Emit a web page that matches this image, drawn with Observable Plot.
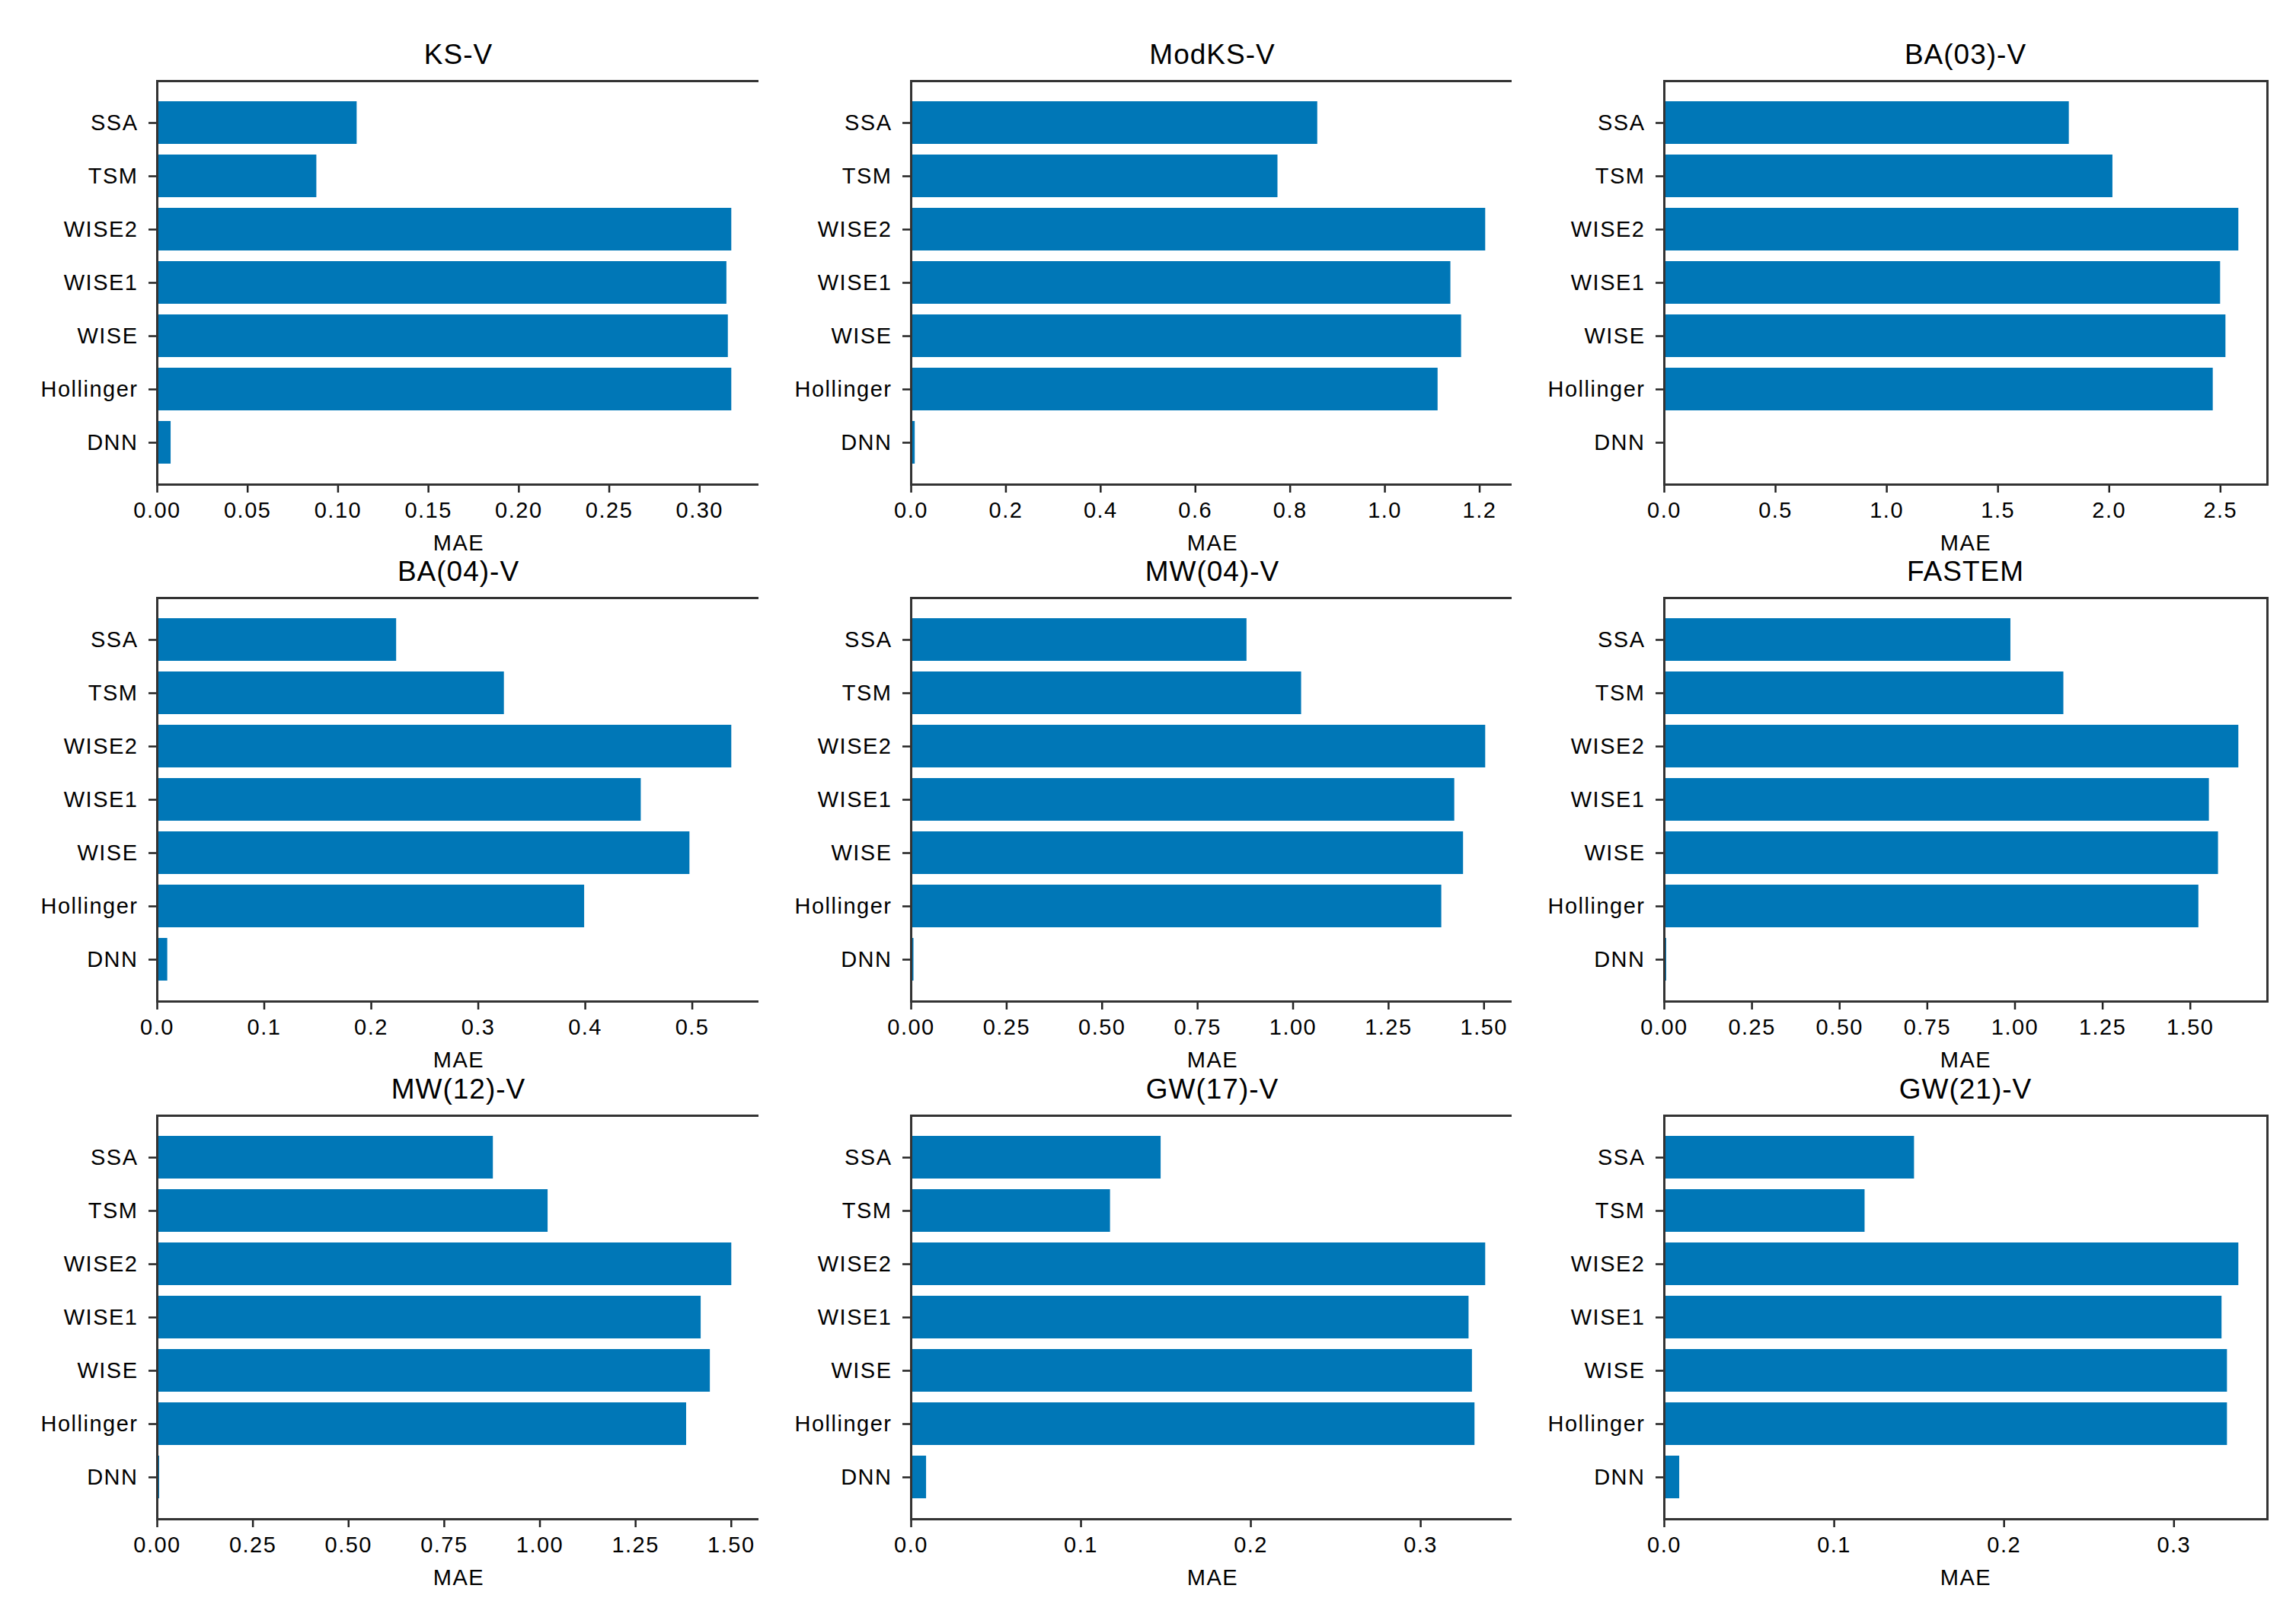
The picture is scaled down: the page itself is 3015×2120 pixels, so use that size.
<!DOCTYPE html>
<html>
<head>
<meta charset="utf-8">
<script src="https://cdn.jsdelivr.net/npm/d3@7"></script>
<script src="https://cdn.jsdelivr.net/npm/@observablehq/plot@0.6"></script>
<style>
  html, body { margin: 0; padding: 0; background: #fff; }
  #page { position: relative; width: 3015px; height: 2120px; background: #fff; font-family: "Liberation Sans", Arial, sans-serif; }
  .panel { position: absolute; }
  .title { position: absolute; text-align: center; font-size: 37px; line-height: 38px; height: 38px; color: #000; white-space: nowrap; letter-spacing: 1px; }
</style>
</head>
<body>
<div id="page"></div>
<script>
// Categories (top to bottom as shown)
const methods = ["SSA", "TSM", "WISE2", "WISE1", "WISE", "Hollinger", "DNN"];

// Panel titles
const titles = ["KS-V", "ModKS-V", "BA(03)-V", "BA(04)-V", "MW(04)-V", "FASTEM", "MW(12)-V", "GW(17)-V", "GW(21)-V"];

// MAE values per panel, in the order of `methods`
const ksV      = [0.1105, 0.0882, 0.3177, 0.3150, 0.3158, 0.3177, 0.0076];
const modksV   = [0.858, 0.774, 1.2125, 1.139, 1.1616, 1.112, 0.0083];
const ba03V    = [1.820, 2.016, 2.582, 2.500, 2.524, 2.467, 0.002];
const ba04V    = [0.2236, 0.3243, 0.5368, 0.4522, 0.4977, 0.3993, 0.0097];
const mw04V    = [0.879, 1.022, 1.504, 1.423, 1.446, 1.389, 0.007];
const fastem   = [0.988, 1.139, 1.638, 1.554, 1.580, 1.524, 0.0065];
const mw12V    = [0.878, 1.021, 1.501, 1.421, 1.445, 1.383, 0.006];
const gw17V    = [0.1471, 0.1173, 0.3382, 0.3284, 0.3304, 0.3319, 0.009];
const gw21V    = [0.1472, 0.1181, 0.3381, 0.3282, 0.3314, 0.3314, 0.009];
const series = [ksV, modksV, ba03V, ba04V, mw04V, fastem, mw12V, gw17V, gw21V];

// Tick values per panel
const ticksKs    = [0, 0.05, 0.10, 0.15, 0.20, 0.25, 0.30];
const ticksModks = [0, 0.2, 0.4, 0.6, 0.8, 1.0, 1.2];
const ticksBa03  = [0, 0.5, 1.0, 1.5, 2.0, 2.5];
const ticksBa04  = [0, 0.1, 0.2, 0.3, 0.4, 0.5];
const ticksQuart = [0, 0.25, 0.50, 0.75, 1.00, 1.25, 1.50];
const ticksGw    = [0, 0.1, 0.2, 0.3];
const tickSets = [ticksKs, ticksModks, ticksBa03, ticksBa04, ticksQuart, ticksQuart, ticksQuart, ticksGw, ticksGw];
const tickDecimals = [2, 1, 1, 1, 2, 2, 2, 1, 1];

const xLabel = "MAE";
const barColor = "#0077b7";

// Layout
const frameLefts = [206, 1196, 2185];
const frameTops = [106, 785, 1465];
const frameW = 792, frameH = 530;
const mL = 200, mR = 12, mT = 12, mB = 100;

const page = document.getElementById("page");

series.forEach((vals, i) => {
  const col = i % 3, row = Math.floor(i / 3);
  const data = methods.map((m, j) => ({method: m, value: vals[j]}));
  const xmax = d3.max(vals) * 1.05;
  const dec = tickDecimals[i];

  const chart = Plot.plot({
    width: mL + frameW + mR,
    height: mT + frameH + mB,
    marginLeft: mL, marginRight: mR, marginTop: mT, marginBottom: mB,
    style: {fontFamily: "'Liberation Sans', Arial, sans-serif", fontSize: "29px", color: "#000", background: "#fff", letterSpacing: "1.5px"},
    x: {domain: [0, xmax]},
    y: {type: "band", domain: methods, paddingInner: 0.2, paddingOuter: 0.34},
    marks: [
      Plot.barX(data, {x: "value", y: "method", fill: barColor}),
      Plot.axisY({tickSize: 11, tickPadding: 14, strokeWidth: 2.5, stroke: "#222", label: null, fontSize: 29}),
      Plot.axisX({ticks: tickSets[i], tickFormat: d => d.toFixed(dec), tickSize: 11, tickPadding: 12, strokeWidth: 2.5, stroke: "#222", fontSize: 29,
        label: xLabel, labelAnchor: "center", labelArrow: "none", labelOffset: 86}),
      Plot.frame({stroke: "#333", strokeWidth: 3})
    ]
  });
  chart.classList.add("panel");
  chart.style.left = (frameLefts[col] - mL) + "px";
  chart.style.top = (frameTops[row] - mT) + "px";
  page.appendChild(chart);

  const t = document.createElement("div");
  t.className = "title";
  t.textContent = titles[i];
  t.style.left = frameLefts[col] + "px";
  t.style.width = frameW + "px";
  t.style.top = (frameTops[row] - 34 - 19) + "px";
  page.appendChild(t);
});
</script>
</body>
</html>
